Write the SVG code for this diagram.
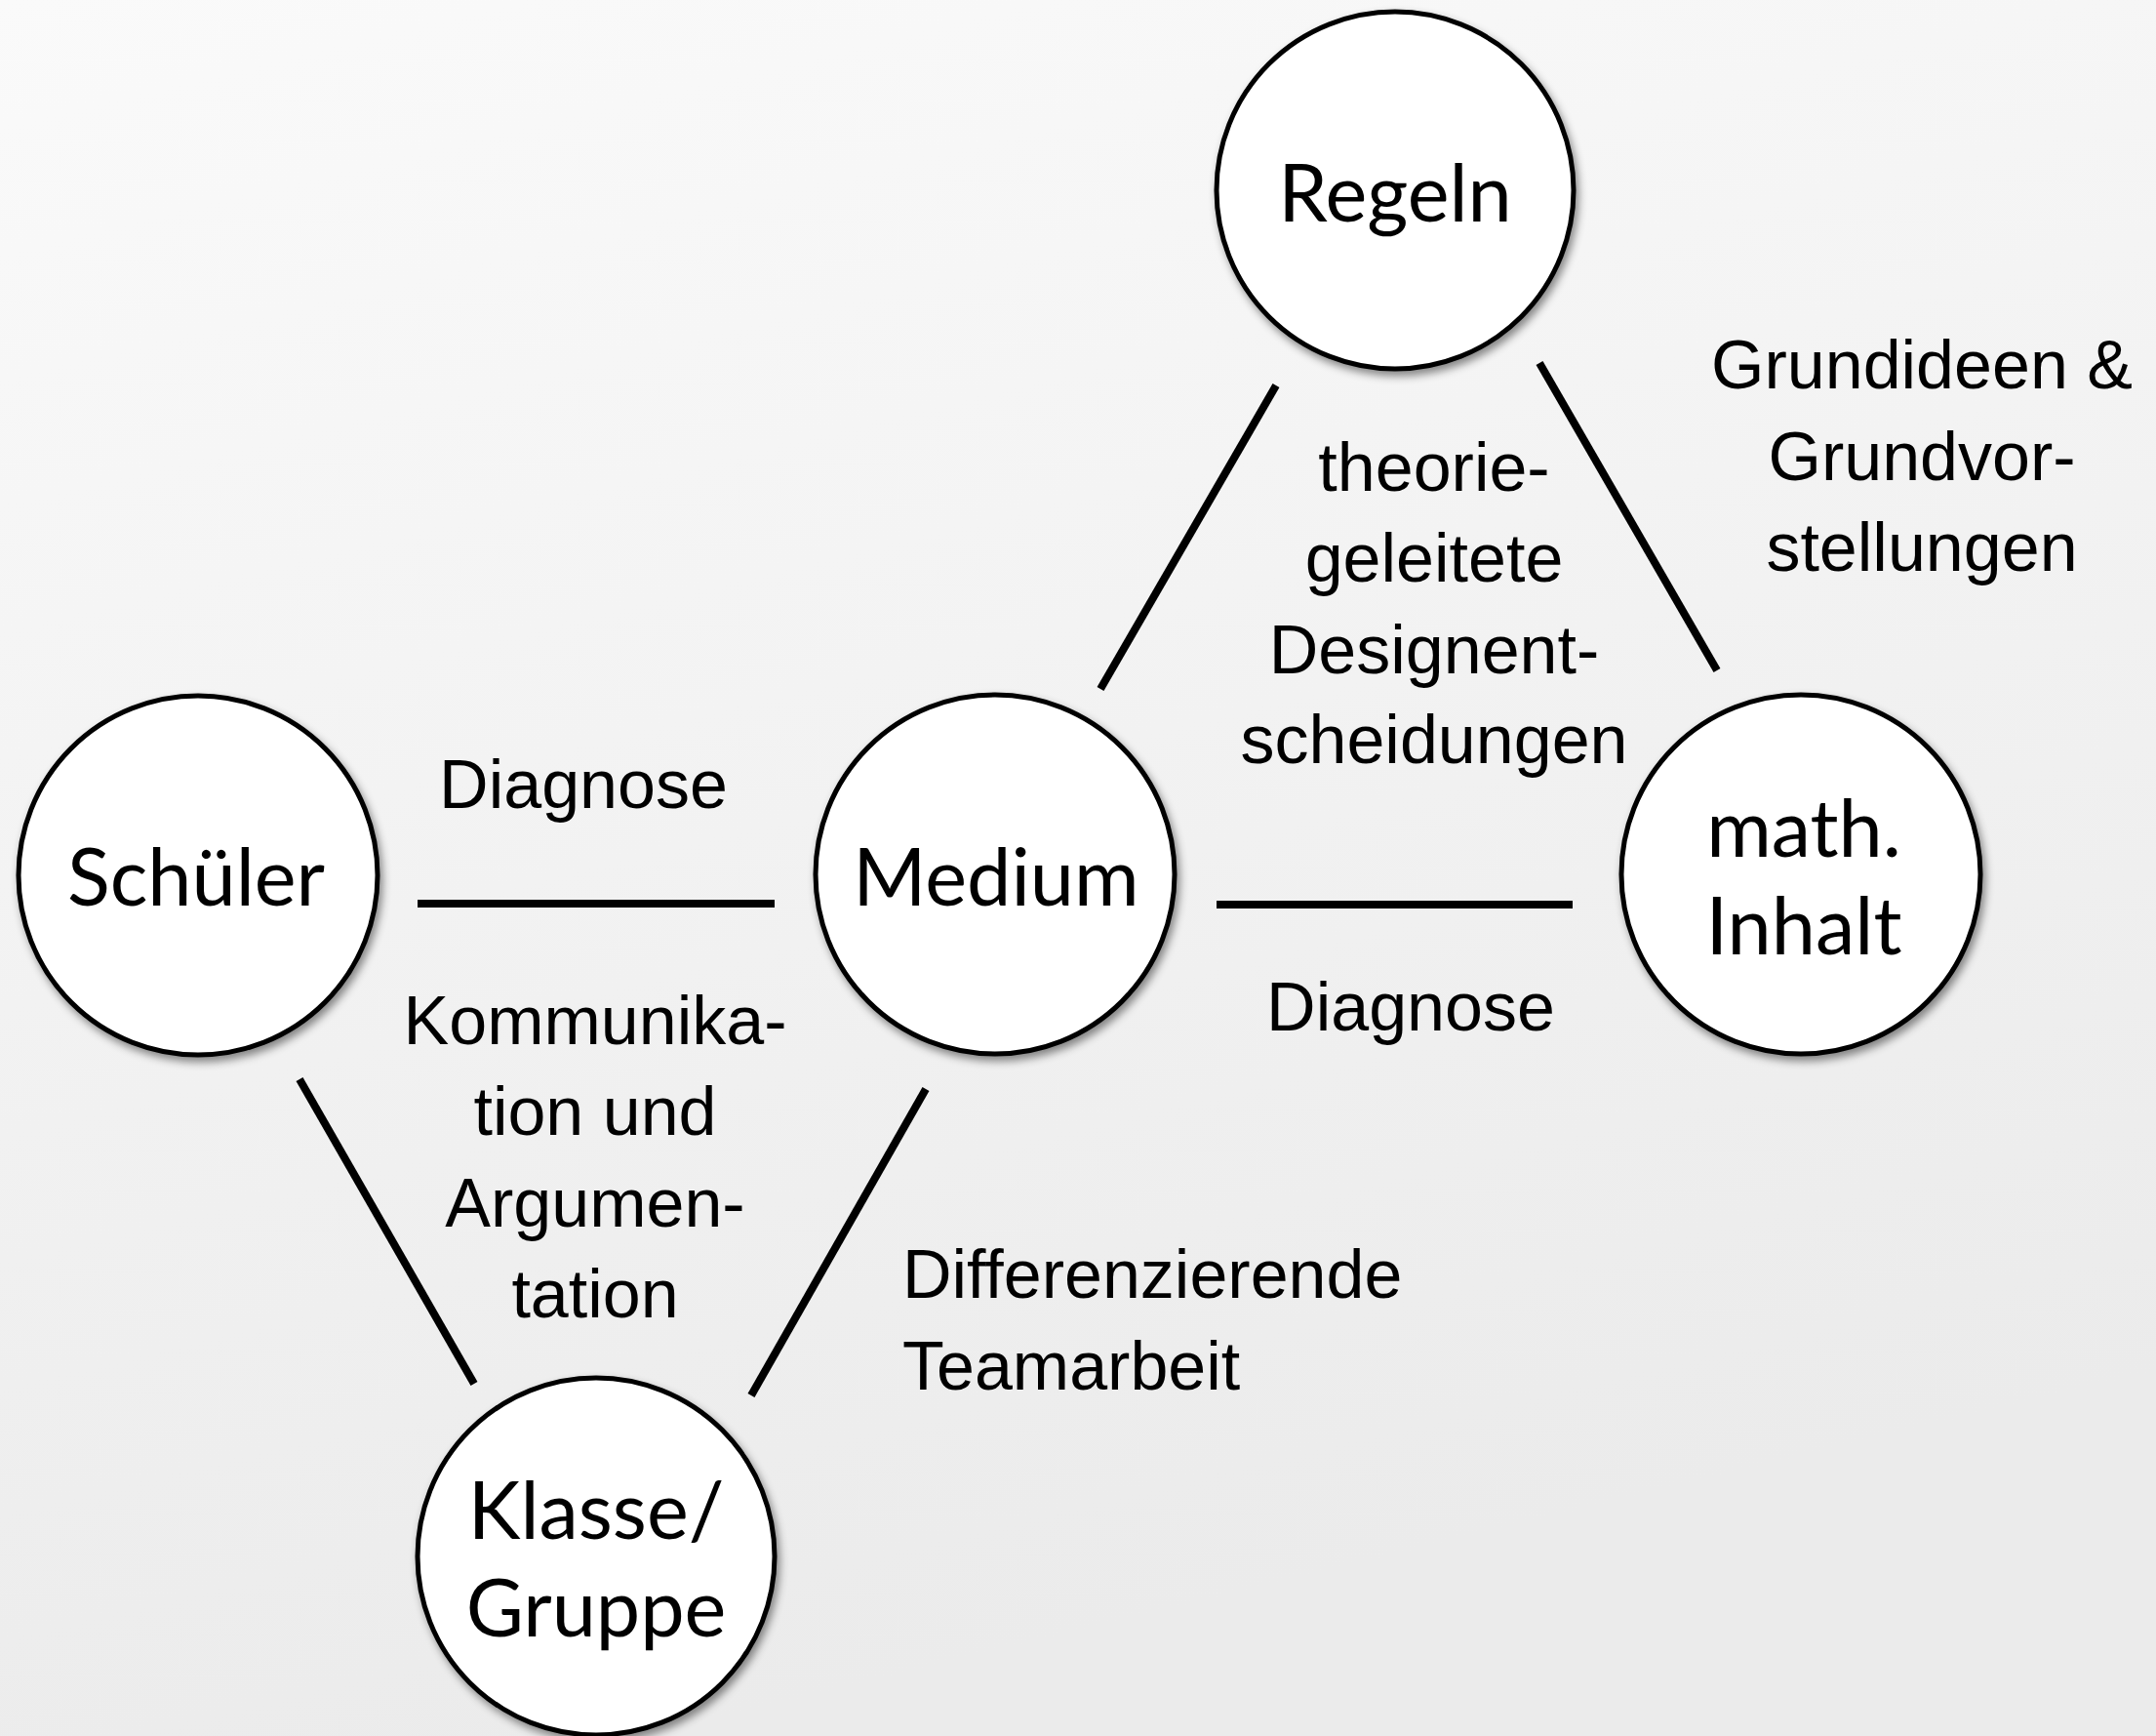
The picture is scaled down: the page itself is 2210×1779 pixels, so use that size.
<svg xmlns="http://www.w3.org/2000/svg" width="2210" height="1779" viewBox="0 0 2210 1779">
<defs>
<linearGradient id="bg" x1="0" y1="0" x2="0.3" y2="1">
<stop offset="0" stop-color="#fafafa"/>
<stop offset="1" stop-color="#ebebeb"/>
</linearGradient>
<filter id="sh" x="-20%" y="-20%" width="140%" height="140%">
<feDropShadow dx="3" dy="5" stdDeviation="4" flood-color="#000" flood-opacity="0.45"/>
</filter>
<style>
.node circle{fill:#fff;stroke:#000;stroke-width:5;filter:url(#sh)}
.node text{font-family:"Lato","Open Sans","DejaVu Sans",sans-serif;font-size:81px;fill:#000;text-anchor:middle}
.edges line{stroke:#000;stroke-width:8}
.lbl{font-family:"Liberation Sans",Arial,sans-serif;font-size:70px;fill:#000}
.c{text-anchor:middle}
</style>
</defs>
<rect x="0" y="0" width="2210" height="1779" fill="url(#bg)"/>
<g id="connectors" class="edges">
<line x1="1308" y1="395" x2="1128" y2="706"/>
<line x1="1578" y1="372" x2="1760" y2="687"/>
<line x1="428" y1="926" x2="794" y2="926"/>
<line x1="1247" y1="927" x2="1612" y2="927"/>
<line x1="307" y1="1106" x2="486" y2="1418"/>
<line x1="949" y1="1116" x2="770" y2="1430"/>
</g>
<g id="labels">
<text class="lbl c" x="598" y="828">Diagnose</text>
<text class="lbl c" x="1446" y="1056">Diagnose</text>
<text class="lbl c" x="610"><tspan x="610" y="1070">Kommunika-</tspan><tspan x="610" y="1163">tion und</tspan><tspan x="610" y="1257">Argumen-</tspan><tspan x="610" y="1350">tation</tspan></text>
<text class="lbl c" x="1470"><tspan x="1470" y="503">theorie-</tspan><tspan x="1470" y="596">geleitete</tspan><tspan x="1470" y="690">Designent-</tspan><tspan x="1470" y="782">scheidungen</tspan></text>
<text class="lbl c" x="1970"><tspan x="1970" y="398">Grundideen &amp;</tspan><tspan x="1970" y="492">Grundvor-</tspan><tspan x="1970" y="585">stellungen</tspan></text>
<text class="lbl" x="925"><tspan x="925" y="1330">Differenzierende</tspan><tspan x="925" y="1424">Teamarbeit</tspan></text>
</g>
<g id="node-regeln" class="node">
<circle cx="1430" cy="195" r="183"/>
<text x="1430" y="227">Regeln</text>
</g>
<g id="node-schueler" class="node">
<circle cx="203" cy="897" r="184"/>
<text x="201" y="928">Schüler</text>
</g>
<g id="node-medium" class="node">
<circle cx="1020" cy="896" r="184"/>
<text x="1021" y="928">Medium</text>
</g>
<g id="node-math" class="node">
<circle cx="1846" cy="896" r="184"/>
<text x="1849"><tspan x="1849" y="878">math.</tspan><tspan x="1849" y="978">Inhalt</tspan></text>
</g>
<g id="node-klasse" class="node">
<circle cx="611" cy="1595" r="183"/>
<text x="611"><tspan x="611" y="1577">Klasse/</tspan><tspan x="611" y="1677">Gruppe</tspan></text>
</g>
</svg>
